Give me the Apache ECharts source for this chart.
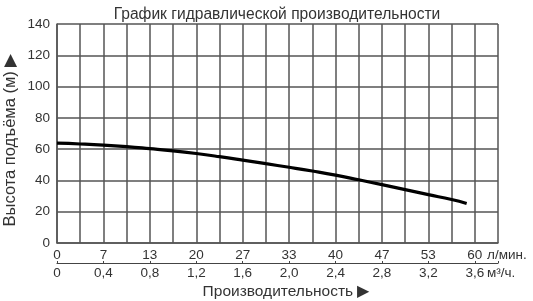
<!DOCTYPE html>
<html><head><meta charset="utf-8">
<script src="https://cdn.jsdelivr.net/npm/echarts@6/dist/echarts.min.js"></script>
<style>html,body{margin:0;padding:0;background:#fff}#c{width:533px;height:301px}</style>
</head><body><div id="c"></div>
<script>
// Flow in m³/h and head in m
const flowM3h = [0, 0.2, 0.4, 0.6, 0.8, 1.0, 1.2, 1.4, 1.6, 1.8, 2.0, 2.2, 2.4, 2.6, 2.8, 3.0, 3.2, 3.4, 3.53];
const headM   = [63.8, 63.3, 62.6, 61.6, 60.3, 58.9, 57.2, 55.2, 53.0, 50.7, 48.4, 46.0, 43.4, 40.4, 37.3, 34.1, 30.9, 27.8, 25.3];
const yTicks = [0, 20, 40, 60, 80, 100, 120, 140];
const titleText = 'График гидравлической производительности';
const yName = 'Высота подъёма (м) ▶';
const xName = 'Производительность ▶';
const unitLmin = 'л/мин.';
const unitM3h = 'м³/ч.';

const font = 'Liberation Sans, Arial, sans-serif';
const gridCol = '#555';
const txt = '#333';
const chart = echarts.init(document.getElementById('c'), null, {renderer: 'canvas'});
chart.setOption({
  animation: false,
  backgroundColor: '#fff',
  title: {text: titleText, left: 272, top: 2, textAlign: 'center',
    textStyle: {fontFamily: font, fontSize: 15.6, fontWeight: 'normal', color: txt}},
  grid: {left: 57, right: 35, top: 24, bottom: 58},
  xAxis: [{
    type: 'value', min: 0, max: 3.8, interval: 0.2, position: 'bottom',
    axisLine: {show: true, lineStyle: {color: gridCol, width: 1.5}},
    axisTick: {show: false},
    splitLine: {show: true, lineStyle: {color: gridCol, width: 1.5}},
    axisLabel: {margin: 5, fontFamily: font, fontSize: 13.5, color: txt,
      showMaxLabel: true, showMinLabel: true,
      formatter: v => {
        const k = Math.round(v * 10);
        if (k % 4 !== 0 || k > 36) return '';
        return String(Math.round(v * 1000 / 60));
      }}
  }, {
    type: 'value', min: 0, max: 3.8, interval: 0.4, position: 'bottom', offset: 20,
    axisLine: {show: true, lineStyle: {color: '#444', width: 1.2}},
    axisTick: {show: true, inside: true, length: 2, lineStyle: {color: '#444'}},
    splitLine: {show: false},
    axisLabel: {margin: 3, fontFamily: font, fontSize: 13.5, color: txt,
      formatter: v => {
        const k = Math.round(v * 10);
        if (k > 36) return '';
        if (k === 0) return '0';
        return (k / 10).toFixed(1).replace('.', ',');
      }}
  }],
  yAxis: {
    type: 'value', min: yTicks[0], max: yTicks[yTicks.length - 1], interval: 20,
    axisLine: {show: true, lineStyle: {color: gridCol, width: 1.5}},
    axisTick: {show: false},
    splitLine: {show: true, lineStyle: {color: gridCol, width: 1.5}},
    axisLabel: {margin: 7, fontFamily: font, fontSize: 13.5, color: txt}
  },
  graphic: [
    {type: 'text', left: 487, top: 248, style: {text: unitLmin, font: '13.5px ' + font, fill: txt}},
    {type: 'text', left: 487, top: 266, style: {text: unitM3h, font: '13.5px ' + font, fill: txt}},
    {type: 'text', x: 286, y: 292, style: {text: xName, font: '15.5px ' + font, fill: txt, align: 'center', verticalAlign: 'middle'}},
    {type: 'text', x: 10, y: 140, rotation: Math.PI / 2, style: {text: yName, font: '16.5px ' + font, fill: txt, align: 'center', verticalAlign: 'middle'}}
  ],
  series: [{
    type: 'line', xAxisIndex: 0, smooth: true, symbol: 'none',
    lineStyle: {color: '#000', width: 3.2},
    data: flowM3h.map((x, i) => [x, headM[i]])
  }]
});
</script></body></html>
